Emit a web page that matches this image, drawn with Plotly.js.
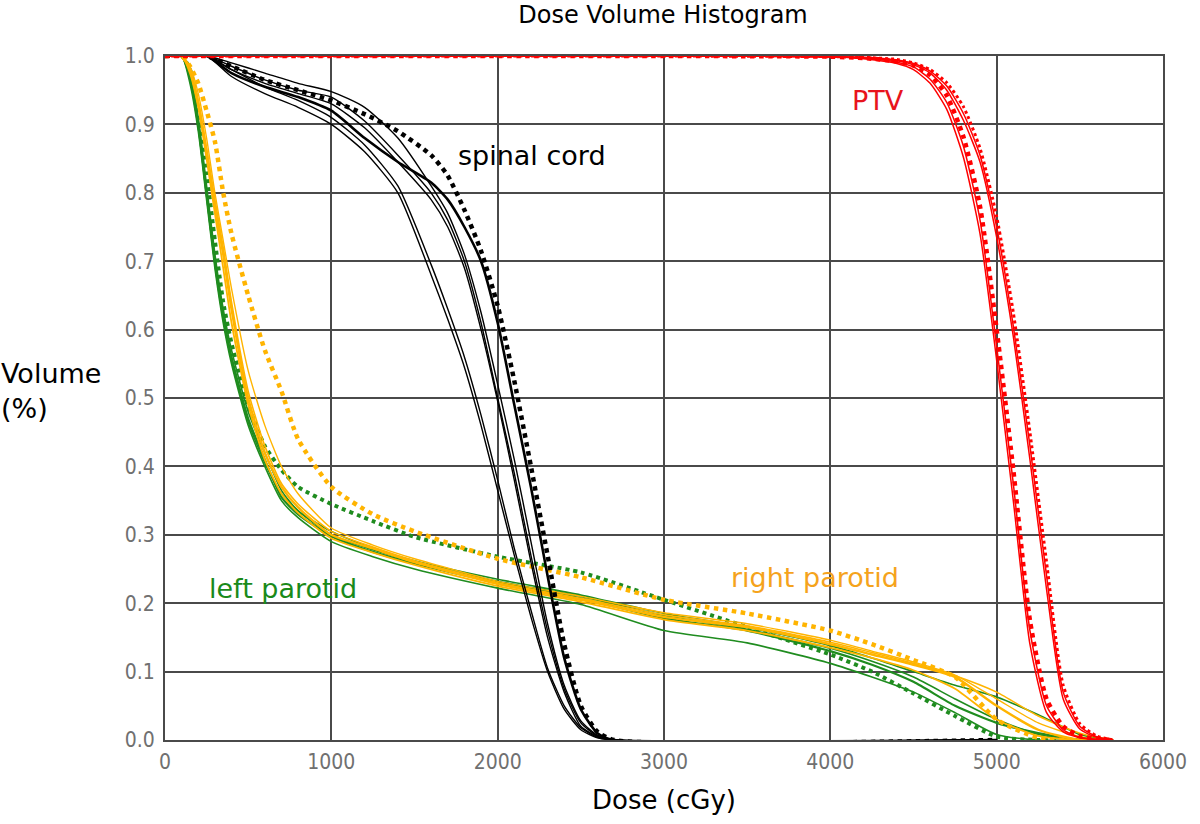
<!DOCTYPE html>
<html>
<head>
<meta charset="utf-8">
<script src="https://cdn.plot.ly/plotly-3.0.1.min.js"></script>
<style>html,body{margin:0;padding:0;background:#fff;}#chart{width:1200px;height:824px;}</style>
</head>
<body>
<div id="chart"></div>
<script>
// ---- Data (dose in cGy, volume as fraction) ----
var ptvDose = [0, 3000, 4000, 4200, 4400, 4500, 4600, 4700, 4800, 4900, 5000, 5100, 5200, 5300, 5400, 5500, 5600, 5700];
var ptvA1 = [1, 1, 0.999, 0.997, 0.991, 0.984, 0.966, 0.932, 0.868, 0.76, 0.575, 0.375, 0.16, 0.05, 0.015, 0.004, 0.001, 0];
var ptvA2 = [1, 1, 0.999, 0.997, 0.992, 0.986, 0.972, 0.942, 0.882, 0.78, 0.6, 0.395, 0.175, 0.06, 0.02, 0.006, 0.002, 0];
var ptvA3 = [1, 1, 0.999, 0.996, 0.989, 0.98, 0.96, 0.922, 0.852, 0.74, 0.555, 0.35, 0.14, 0.04, 0.012, 0.003, 0.001, 0];
var ptvB1 = [1, 1, 0.999, 0.998, 0.994, 0.989, 0.978, 0.956, 0.916, 0.855, 0.75, 0.605, 0.43, 0.24, 0.07, 0.02, 0.005, 0];
var ptvB2 = [1, 1, 0.999, 0.998, 0.995, 0.99, 0.98, 0.961, 0.926, 0.865, 0.765, 0.625, 0.45, 0.26, 0.08, 0.024, 0.006, 0];
var ptvB3 = [1, 1, 0.999, 0.997, 0.993, 0.987, 0.975, 0.95, 0.906, 0.845, 0.735, 0.59, 0.41, 0.22, 0.06, 0.016, 0.004, 0];

var cordDose = [0, 250, 400, 600, 800, 1000, 1200, 1400, 1600, 1700, 1800, 1900, 2000, 2100, 2200, 2300, 2400, 2500, 2600, 2700, 5000];
var cordS1 = [1, 1, 0.97, 0.945, 0.925, 0.9, 0.86, 0.8, 0.68, 0.615, 0.545, 0.46, 0.365, 0.27, 0.18, 0.1, 0.045, 0.015, 0.003, 0, 0];
var cordS2 = [1, 1, 0.98, 0.955, 0.935, 0.91, 0.87, 0.81, 0.695, 0.63, 0.56, 0.475, 0.38, 0.28, 0.19, 0.105, 0.05, 0.018, 0.004, 0, 0];
var cordM1 = [1, 1, 0.985, 0.965, 0.95, 0.94, 0.905, 0.855, 0.8, 0.76, 0.7, 0.61, 0.5, 0.39, 0.27, 0.16, 0.075, 0.025, 0.006, 0, 0];
var cordM2 = [1, 1, 0.99, 0.975, 0.96, 0.948, 0.925, 0.88, 0.81, 0.77, 0.71, 0.625, 0.52, 0.41, 0.29, 0.17, 0.08, 0.028, 0.007, 0, 0];
var cordM3 = [1, 1, 0.98, 0.96, 0.945, 0.93, 0.895, 0.845, 0.79, 0.75, 0.69, 0.6, 0.495, 0.38, 0.26, 0.15, 0.07, 0.02, 0.005, 0, 0];
var cordR1 = [1, 1, 0.975, 0.955, 0.94, 0.92, 0.88, 0.845, 0.815, 0.79, 0.75, 0.7, 0.61, 0.49, 0.37, 0.24, 0.12, 0.045, 0.01, 0, 0];
var cordR2 = [1, 1, 0.985, 0.965, 0.95, 0.935, 0.915, 0.89, 0.855, 0.825, 0.775, 0.715, 0.635, 0.525, 0.4, 0.27, 0.14, 0.05, 0.012, 0, 0];

var parDose = [0, 100, 150, 200, 250, 300, 350, 400, 500, 600, 700, 800, 1000, 1250, 1500, 2000, 2500, 3000, 3500, 4000, 4250, 4500, 4750, 5000, 5250, 5500, 5700];
var leftG1 = [1, 1, 0.96, 0.89, 0.79, 0.69, 0.61, 0.55, 0.46, 0.4, 0.35, 0.325, 0.29, 0.268, 0.25, 0.222, 0.198, 0.16, 0.142, 0.112, 0.092, 0.07, 0.04, 0.008, 0, 0, 0];
var leftG2 = [1, 1, 0.97, 0.9, 0.8, 0.7, 0.62, 0.56, 0.47, 0.41, 0.355, 0.33, 0.298, 0.275, 0.258, 0.23, 0.207, 0.178, 0.16, 0.13, 0.11, 0.085, 0.05, 0.025, 0.01, 0, 0];
var leftG3 = [1, 1, 0.975, 0.91, 0.81, 0.71, 0.63, 0.57, 0.48, 0.42, 0.365, 0.335, 0.305, 0.28, 0.262, 0.235, 0.212, 0.185, 0.165, 0.138, 0.12, 0.1, 0.08, 0.063, 0.037, 0.008, 0];
var leftG4 = [1, 1, 0.965, 0.895, 0.795, 0.695, 0.615, 0.555, 0.465, 0.405, 0.36, 0.335, 0.3, 0.278, 0.26, 0.232, 0.21, 0.182, 0.162, 0.134, 0.115, 0.092, 0.06, 0.03, 0.008, 0, 0];
var leftG5 = [1, 1, 0.98, 0.92, 0.83, 0.73, 0.64, 0.58, 0.49, 0.43, 0.395, 0.37, 0.345, 0.32, 0.297, 0.268, 0.245, 0.205, 0.165, 0.125, 0.1, 0.068, 0.035, 0.005, 0, 0, 0];
var rightO1 = [1, 1, 0.98, 0.93, 0.86, 0.78, 0.71, 0.63, 0.5, 0.42, 0.37, 0.34, 0.3, 0.28, 0.26, 0.228, 0.205, 0.18, 0.165, 0.14, 0.125, 0.11, 0.092, 0.05, 0.015, 0, 0];
var rightO2 = [1, 1, 0.985, 0.945, 0.88, 0.8, 0.73, 0.66, 0.54, 0.46, 0.4, 0.36, 0.31, 0.285, 0.265, 0.232, 0.21, 0.186, 0.17, 0.146, 0.13, 0.114, 0.095, 0.06, 0.025, 0.005, 0];
var rightO3 = [1, 1, 0.975, 0.925, 0.85, 0.77, 0.69, 0.61, 0.49, 0.41, 0.36, 0.332, 0.295, 0.274, 0.256, 0.225, 0.202, 0.176, 0.16, 0.135, 0.12, 0.102, 0.075, 0.03, 0.006, 0, 0];
var rightO4 = [1, 1, 0.98, 0.935, 0.865, 0.79, 0.72, 0.64, 0.51, 0.43, 0.375, 0.345, 0.305, 0.282, 0.262, 0.23, 0.207, 0.183, 0.167, 0.143, 0.128, 0.112, 0.094, 0.07, 0.035, 0.01, 0];
var rightO5 = [1, 1, 0.985, 0.96, 0.92, 0.875, 0.8, 0.74, 0.65, 0.57, 0.51, 0.44, 0.37, 0.33, 0.305, 0.265, 0.238, 0.205, 0.185, 0.16, 0.14, 0.117, 0.092, 0.03, 0.003, 0, 0];

var xTickVals = [0, 1000, 2000, 3000, 4000, 5000, 6000];
var yTickVals = [0, 0.1, 0.2, 0.3, 0.4, 0.5, 0.6, 0.7, 0.8, 0.9, 1.0];

// ---- Styles ----
var RED = '#ff0000', BLACK = '#000000', GREEN = '#1f8c1f', ORANGE = '#ffb400';
function tr(x, y, color, width, dash) {
  return {x: x, y: y, type: 'scatter', mode: 'lines', showlegend: false, hoverinfo: 'skip',
          line: {color: color, width: width, dash: dash || 'solid', shape: 'spline', smoothing: 0.6}};
}
var traces = [
  tr(parDose, leftG1, GREEN, 1.6), tr(parDose, leftG2, GREEN, 2.2), tr(parDose, leftG3, GREEN, 1.6),
  tr(parDose, leftG4, GREEN, 1.6), tr(parDose, leftG5, GREEN, 4, 'dot'),
  tr(parDose, rightO1, ORANGE, 2.4), tr(parDose, rightO2, ORANGE, 1.4), tr(parDose, rightO3, ORANGE, 1.8),
  tr(parDose, rightO4, ORANGE, 1.6), tr(parDose, rightO5, ORANGE, 4.5, 'dot'),
  tr(cordDose, cordS1, BLACK, 1.4), tr(cordDose, cordS2, BLACK, 1.4), tr(cordDose, cordM1, BLACK, 1.4),
  tr(cordDose, cordM2, BLACK, 1.4), tr(cordDose, cordM3, BLACK, 1.4), tr(cordDose, cordR1, BLACK, 2.6),
  tr(cordDose, cordR2, BLACK, 4.5, 'dot'),
  tr(ptvDose, ptvA1, RED, 1.5), tr(ptvDose, ptvA2, RED, 4.5, 'dot'), tr(ptvDose, ptvA3, RED, 1.5),
  tr(ptvDose, ptvB1, RED, 1.5), tr(ptvDose, ptvB2, RED, 3, 'dot'), tr(ptvDose, ptvB3, RED, 1.5)
];

var FONT = 'DejaVu Sans, Verdana, sans-serif';
var TICKFONT = {family: 'DejaVu Sans Condensed, DejaVu Sans, sans-serif', size: 21, color: '#707070'};
var layout = {
  width: 1200, height: 824,
  margin: {l: 165, r: 37, t: 56, b: 84},
  paper_bgcolor: '#ffffff', plot_bgcolor: '#ffffff',
  title: {text: 'Dose Volume Histogram', font: {family: FONT, size: 24, color: '#000'},
          x: 0.5525, xanchor: 'center', y: 0.982, yanchor: 'middle', yref: 'container'},
  xaxis: {range: [0, 6000], tickvals: xTickVals, ticktext: xTickVals.map(String),
          showgrid: true, gridcolor: '#4a4a4a', gridwidth: 2, zeroline: false,
          showline: true, linecolor: '#4a4a4a', linewidth: 2, mirror: true, ticks: '',
          tickfont: TICKFONT, ticklabelstandoff: 2,
          title: {text: 'Dose (cGy)', font: {family: FONT, size: 26, color: '#000'}, standoff: 18}},
  yaxis: {range: [0, 1], tickvals: yTickVals, ticktext: yTickVals.map(function(v){return v.toFixed(1);}),
          showgrid: true, gridcolor: '#4a4a4a', gridwidth: 2, zeroline: false,
          showline: true, linecolor: '#4a4a4a', linewidth: 2, mirror: true, ticks: '',
          tickfont: TICKFONT, ticklabelstandoff: 4},
  annotations: [
    {text: 'Volume<br>(%)', xref: 'paper', yref: 'paper', x: -0.166, y: 0.51, xanchor: 'left', yanchor: 'middle',
     align: 'left', showarrow: false, font: {family: FONT, size: 27, color: '#000'}},
    {text: 'PTV', xref: 'x', yref: 'y', x: 4120, y: 0.935, xanchor: 'left', yanchor: 'middle', showarrow: false,
     font: {family: FONT, size: 27, color: '#e8141c'}},
    {text: 'spinal cord', xref: 'x', yref: 'y', x: 1750, y: 0.855, xanchor: 'left', yanchor: 'middle', showarrow: false,
     font: {family: FONT, size: 27, color: '#000'}},
    {text: 'left parotid', xref: 'x', yref: 'y', x: 255, y: 0.222, xanchor: 'left', yanchor: 'middle', showarrow: false,
     font: {family: FONT, size: 27, color: '#1a8a1a'}},
    {text: 'right parotid', xref: 'x', yref: 'y', x: 3390, y: 0.237, xanchor: 'left', yanchor: 'middle', showarrow: false,
     font: {family: FONT, size: 27, color: '#f5a31c'}}
  ]
};
Plotly.newPlot('chart', traces, layout, {staticPlot: true, displayModeBar: false});
</script>
</body>
</html>
